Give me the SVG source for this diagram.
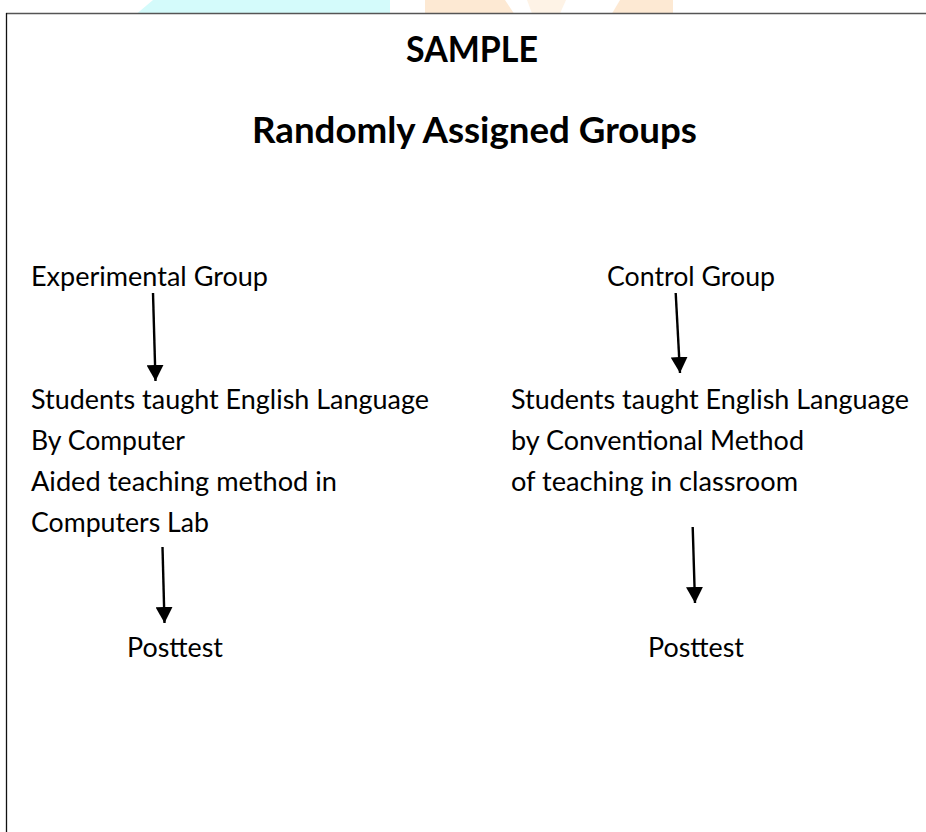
<svg xmlns="http://www.w3.org/2000/svg" width="926" height="832" viewBox="0 0 926 832">
<style>
  .t { font-family: Lato, "Liberation Sans", sans-serif; font-size: 27px; fill: #000; }
  .h { font-family: Lato, "Liberation Sans", sans-serif; font-size: 36px; font-weight: bold; fill: #000; }
  .c { stroke: #000; stroke-width: 2.4; fill: none; marker-end: url(#arr); }
</style>
<defs>
  <marker id="arr" viewBox="0 0 16 17" refX="16" refY="8.5" markerWidth="16" markerHeight="17" markerUnits="userSpaceOnUse" orient="auto">
    <path d="M0,0 L16,8.5 L0,17 Z" fill="#000"/>
  </marker>
</defs>
<rect width="926" height="832" fill="#fff"/>
<g id="watermark">
  <polygon points="137,13.5 153,0 390,0 390,13.5" fill="#d4fbfb"/>
  <polygon points="425,0 505,0 514,13.5 425,13.5" fill="#fde9d3"/>
  <polygon points="527,0 566,0 560,13.5 532,13.5" fill="#fef3e6"/>
  <polygon points="620,0 673,0 673,13.5 612,13.5" fill="#fde9d3"/>
</g>
<g id="frame">
  <line x1="6" y1="13.5" x2="926" y2="13.5" stroke="#555" stroke-width="1.5"/>
  <line x1="6.5" y1="13" x2="6.5" y2="832" stroke="#111" stroke-width="1.3"/>
</g>
<g id="title">
  <text class="h" x="406" y="62" textLength="132" lengthAdjust="spacingAndGlyphs">SAMPLE</text>
  <text class="h" x="252" y="143" textLength="445" lengthAdjust="spacingAndGlyphs">Randomly Assigned Groups</text>
</g>
<g id="experimental-group">
  <text class="t" x="31" y="286" textLength="237" lengthAdjust="spacingAndGlyphs">Experimental Group</text>
</g>
<g id="experimental-treatment">
  <text class="t" x="31" y="409" textLength="398" lengthAdjust="spacingAndGlyphs">Students taught English Language</text>
  <text class="t" x="31" y="450" textLength="154" lengthAdjust="spacingAndGlyphs">By Computer</text>
  <text class="t" x="31" y="491" textLength="306" lengthAdjust="spacingAndGlyphs">Aided teaching method in</text>
  <text class="t" x="31" y="532" textLength="178" lengthAdjust="spacingAndGlyphs">Computers Lab</text>
</g>
<g id="experimental-posttest">
  <text class="t" x="127" y="657" textLength="96" lengthAdjust="spacingAndGlyphs">Posttest</text>
</g>
<g id="control-group">
  <text class="t" x="607" y="286" textLength="168" lengthAdjust="spacingAndGlyphs">Control Group</text>
</g>
<g id="control-treatment">
  <text class="t" x="511" y="409" textLength="398" lengthAdjust="spacingAndGlyphs">Students taught English Language</text>
  <text class="t" x="511" y="450" textLength="293" lengthAdjust="spacingAndGlyphs">by Conventional Method</text>
  <text class="t" x="511" y="491" textLength="287" lengthAdjust="spacingAndGlyphs">of teaching in classroom</text>
</g>
<g id="control-posttest">
  <text class="t" x="648" y="657" textLength="96" lengthAdjust="spacingAndGlyphs">Posttest</text>
</g>
<g id="connectors">
  <line class="c" x1="153" y1="293" x2="155.5" y2="381"/>
  <line class="c" x1="162.5" y1="547" x2="164.5" y2="623"/>
  <line class="c" x1="675.7" y1="293" x2="680" y2="373"/>
  <line class="c" x1="692.7" y1="527" x2="695" y2="603"/>
</g>
</svg>
